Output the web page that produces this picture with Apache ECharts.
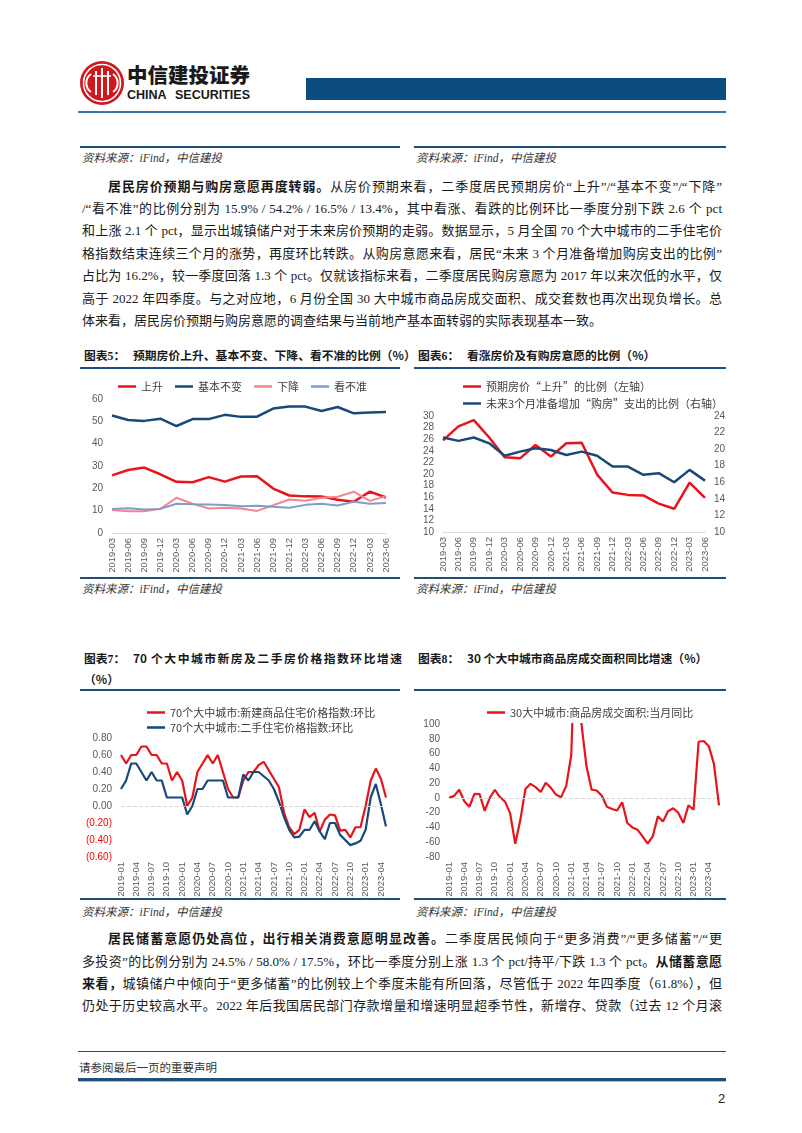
<!DOCTYPE html>
<html><head><meta charset="utf-8">
<script src="https://cdn.jsdelivr.net/npm/echarts@6/dist/echarts.min.js"></script>
<style>
html,body{margin:0;padding:0;background:#fff}
body{width:802px;height:1133px;position:relative;overflow:hidden;font-family:"Liberation Serif","Noto Sans CJK SC",serif;color:#1a1a1a}
.a{position:absolute}
.hl{position:absolute;background:#1F4E79}
.src{position:absolute;font-size:11.5px;font-style:italic;color:#333;line-height:14px;white-space:nowrap}
.tl{position:absolute;left:82px;width:640px;font-size:13px;line-height:22px;height:22px;text-align:justify;text-align-last:justify;white-space:normal}
.tl.first{left:108px;width:614px}
.tl.last{text-align:left;text-align-last:left}
.tl b{font-family:"Noto Sans CJK SC";font-weight:700}
.tt{position:absolute;font-family:"Noto Sans CJK SC";font-weight:700;font-size:11.8px;line-height:16px;white-space:nowrap}
.tt .n{font-family:"Liberation Serif","Noto Sans CJK SC";display:inline-block;width:49px;text-align:left;text-align-last:left}
.ch{position:absolute}
</style></head><body>

<!-- header -->
<svg class="a" style="left:79px;top:60px" width="46" height="46" viewBox="0 0 46 46">
  <circle cx="23" cy="23" r="22" fill="#D2161E"/>
  <circle cx="23" cy="23" r="18.5" fill="none" stroke="#fff" stroke-width="1.6"/>
  <path d="M12 14 A11 11 0 0 0 12 32" fill="none" stroke="#fff" stroke-width="2"/>
  <path d="M34 14 A11 11 0 0 1 34 32" fill="none" stroke="#fff" stroke-width="2"/>
  <line x1="17" y1="11" x2="17" y2="35" stroke="#fff" stroke-width="2"/>
  <line x1="23" y1="8" x2="23" y2="38" stroke="#fff" stroke-width="2"/>
  <line x1="29" y1="11" x2="29" y2="35" stroke="#fff" stroke-width="2"/>
  <line x1="14" y1="16" x2="32" y2="16" stroke="#fff" stroke-width="1.6"/>
</svg>
<div class="a" style="left:127px;top:60px;font-family:'Noto Sans CJK SC';font-weight:900;font-size:20.5px;line-height:28px;color:#1a1a1a;letter-spacing:0px">中信建投证券</div>
<div class="a" style="left:127px;top:88px;width:123px;font-family:'Liberation Sans Narrow','Liberation Sans';font-weight:700;font-size:12.5px;line-height:15px;color:#1a1a1a;text-align:justify;text-align-last:justify">CHINA SECURITIES</div>
<div class="a" style="left:306px;top:78px;width:420px;height:22px;background:#0B4D7E"></div>
<div class="a" style="left:78px;top:111px;width:648px;height:2px;background:#3B78A8"></div>

<!-- top sources -->
<div class="hl" style="left:80px;top:146px;width:320px;height:2px"></div>
<div class="hl" style="left:414px;top:146px;width:312px;height:2px"></div>
<div class="src" style="left:82px;top:151px">资料来源：iFind，中信建投</div>
<div class="src" style="left:416px;top:151px">资料来源：iFind，中信建投</div>

<!-- paragraph 1 -->
<div class="tl first" style="top:175px"><b>居民房价预期与购房意愿再度转弱。</b>从房价预期来看，二季度居民预期房价“上升”/“基本不变”/“下降”</div>
<div class="tl" style="top:197.5px">/“看不准”的比例分别为 15.9% / 54.2% / 16.5% / 13.4%，其中看涨、看跌的比例环比一季度分别下跌 2.6 个 pct</div>
<div class="tl" style="top:220px">和上涨 2.1 个 pct，显示出城镇储户对于未来房价预期的走弱。数据显示，5 月全国 70 个大中城市的二手住宅价</div>
<div class="tl" style="top:242.5px">格指数结束连续三个月的涨势，再度环比转跌。从购房意愿来看，居民“未来 3 个月准备增加购房支出的比例”</div>
<div class="tl" style="top:265px">占比为 16.2%，较一季度回落 1.3 个 pct。仅就该指标来看，二季度居民购房意愿为 2017 年以来次低的水平，仅</div>
<div class="tl" style="top:287.5px">高于 2022 年四季度。与之对应地，6 月份全国 30 大中城市商品房成交面积、成交套数也再次出现负增长。总</div>
<div class="tl last" style="top:310px">体来看，居民房价预期与购房意愿的调查结果与当前地产基本面转弱的实际表现基本一致。</div>

<!-- chart titles row 1 -->
<div class="tt" style="left:84px;top:347px"><span class="n">图表5：</span>预期房价上升、基本不变、下降、看不准的比例（%）</div>
<div class="tt" style="left:418px;top:347px"><span class="n">图表6：</span>看涨房价及有购房意愿的比例（%）</div>
<div class="hl" style="left:80px;top:367px;width:320px;height:2px"></div>
<div class="hl" style="left:414px;top:367px;width:312px;height:2px"></div>
<div id="c5" class="ch" style="left:80px;top:372px;width:325px;height:200px"></div>
<div id="c6" class="ch" style="left:410px;top:372px;width:320px;height:200px"></div>
<div class="hl" style="left:80px;top:577px;width:320px;height:2px"></div>
<div class="hl" style="left:414px;top:577px;width:312px;height:2px"></div>
<div class="src" style="left:82px;top:582px">资料来源：iFind，中信建投</div>
<div class="src" style="left:416px;top:582px">资料来源：iFind，中信建投</div>

<!-- chart titles row 2 -->
<div class="tt" style="left:84px;top:650px;width:318px;text-align:justify;text-align-last:justify"><span class="n">图表7：</span>70 个大中城市新房及二手房价格指数环比增速</div>
<div class="tt" style="left:84px;top:671px">（%）</div>
<div class="tt" style="left:418px;top:650px"><span class="n">图表8：</span>30 个大中城市商品房成交面积同比增速（%）</div>
<div class="hl" style="left:80px;top:689px;width:320px;height:2px"></div>
<div class="hl" style="left:414px;top:689px;width:312px;height:2px"></div>
<div id="c7" class="ch" style="left:80px;top:697px;width:325px;height:200px"></div>
<div id="c8" class="ch" style="left:410px;top:697px;width:320px;height:200px"></div>
<div class="hl" style="left:80px;top:898px;width:320px;height:2px"></div>
<div class="hl" style="left:414px;top:898px;width:312px;height:2px"></div>
<div class="src" style="left:82px;top:905px">资料来源：iFind，中信建投</div>
<div class="src" style="left:416px;top:905px">资料来源：iFind，中信建投</div>

<!-- paragraph 2 -->
<div class="tl first" style="top:927px"><b>居民储蓄意愿仍处高位，出行相关消费意愿明显改善。</b>二季度居民倾向于“更多消费”/“更多储蓄”/“更</div>
<div class="tl" style="top:949.5px">多投资”的比例分别为 24.5% / 58.0% / 17.5%，环比一季度分别上涨 1.3 个 pct/持平/下跌 1.3 个 pct。<b>从储蓄意愿</b></div>
<div class="tl" style="top:972px"><b>来看，</b>城镇储户中倾向于“更多储蓄”的比例较上个季度未能有所回落，尽管低于 2022 年四季度（61.8%），但</div>
<div class="tl" style="top:994.5px">仍处于历史较高水平。2022 年后我国居民部门存款增量和增速明显超季节性，新增存、贷款（过去 12 个月滚</div>

<!-- footer -->
<div class="a" style="left:78px;top:1051px;width:648px;height:1px;background:#1F4E79"></div>
<div class="a" style="left:79px;top:1059px;font-family:'Noto Sans CJK SC';font-size:11.5px;line-height:16px;color:#333">请参阅最后一页的重要声明</div>
<div class="a" style="left:78px;top:1078px;width:648px;height:3px;background:#1F4E79"></div>
<div class="a" style="left:78px;top:1081px;width:648px;height:1px;background:#9DC3E6"></div>
<div class="a" style="left:718px;top:1091px;font-family:'Liberation Sans';font-size:13px;line-height:16px;color:#222">2</div>

<script>
// ---------- data ----------
const quarters = ['2019-03','2019-06','2019-09','2019-12','2020-03','2020-06','2020-09','2020-12','2021-03','2021-06','2021-09','2021-12','2022-03','2022-06','2022-09','2022-12','2023-03','2023-06'];
const expectRise   = [25.8, 28.2, 29.3, 26.3, 22.9, 22.7, 25.0, 23.0, 25.3, 25.4, 19.9, 16.8, 16.4, 16.3, 14.9, 14.0, 18.5, 15.9];
const expectFlat   = [52.6, 50.6, 50.2, 51.2, 47.9, 51.0, 51.0, 52.9, 52.0, 52.1, 55.7, 56.6, 56.6, 54.6, 56.4, 53.6, 53.9, 54.2];
const expectFall   = [10.3, 9.7, 9.7, 10.8, 15.8, 13.1, 11.0, 11.3, 11.0, 9.9, 12.4, 15.0, 14.4, 15.8, 16.2, 18.5, 14.4, 16.5];
const expectUnsure = [10.8, 11.1, 10.5, 10.8, 13.1, 12.9, 12.8, 12.5, 12.0, 12.2, 11.7, 11.3, 12.6, 13.1, 12.3, 14.0, 13.1, 13.4];
const buyIntent    = [21.4, 21.0, 21.4, 20.7, 19.2, 19.7, 20.1, 19.9, 19.3, 19.7, 19.2, 17.9, 17.9, 16.9, 17.1, 16.0, 17.5, 16.2];

// 70 cities MoM, 2019-01 .. 2023-05
const newHomeMoM = [
  0.6,0.5,0.6,0.6,0.7,0.7,0.6,0.6,0.5,0.5,0.3,0.4,
  0.3,0.0,0.1,0.4,0.5,0.6,0.5,0.6,0.4,0.2,0.1,0.1,
  0.3,0.4,0.4,0.48,0.52,0.42,0.32,0.22,-0.08,-0.25,-0.33,-0.28,
  -0.04,-0.13,-0.08,-0.30,-0.16,-0.10,-0.11,-0.29,-0.28,-0.37,-0.25,-0.25,
  0.0,0.30,0.44,0.32,0.10];
const usedHomeMoM = [
  0.2,0.3,0.5,0.5,0.4,0.3,0.4,0.3,0.3,0.1,0.1,0.1,
  0.1,-0.1,0.0,0.2,0.2,0.3,0.3,0.3,0.3,0.1,0.1,0.1,
  0.37,0.3,0.4,0.4,0.35,0.3,0.2,0.05,-0.13,-0.28,-0.37,-0.36,
  -0.28,-0.28,-0.18,-0.30,-0.39,-0.20,-0.20,-0.34,-0.40,-0.46,-0.44,-0.41,
  -0.28,0.10,0.26,0.02,-0.24];

// 30 cities transaction area YoY, 2019-01 .. 2023-06
const area30YoY = [
  0, 2.7, 11, -4.5, -12, 5.5, 5, -17.5, 0, 11, 1, -5,
  -21, -62, -30, 12, 19, 14.5, 8, 20.5, 13.6, 4.5, 1, 16,
  58, 270, 100, 42, 11, 10, 3, -12, -15, -17, -6, -34,
  -40, -43, -52, -62, -52, -25, -32, -18, -14, -20, -34, -10,
  -16, 76, 77, 70, 46, -10];

function monthLabels(n){const a=[];for(let i=0;i<n;i++){const y=2019+Math.floor(i/12),m=i%12+1;a.push(y+'-'+(m<10?'0':'')+m);}return a;}
const months7 = monthLabels(newHomeMoM.length);
const months8 = monthLabels(area30YoY.length);

// ---------- styles ----------
const RED='#E8141B', NAVY='#17497A', PINK='#F3878D', STEEL='#7C9EC8', GREY='#595959';
const FONT='"Liberation Sans","Noto Sans CJK SC",sans-serif';
const CJK='"Noto Sans CJK SC","Liberation Sans",sans-serif';

function xCat(data, interval){
  return {type:'category',data:data,boundaryGap:false,
    axisLine:{show:true,lineStyle:{color:'#D9D9D9',width:1}},
    axisTick:{show:false},
    axisLabel:{rotate:90,fontSize:9.5,color:GREY,margin:5,interval:interval,fontFamily:FONT}};
}
function yVal(min,max,step,extra){
  return Object.assign({type:'value',min:min,max:max,interval:step,
    axisLine:{show:false},axisTick:{show:false},splitLine:{show:false},
    axisLabel:{fontSize:10,color:GREY,margin:9,fontFamily:FONT}},extra||{});
}
function ln(name,data,color,w,extra){
  return Object.assign({name:name,type:'line',data:data,symbol:'none',smooth:false,
    lineStyle:{color:color,width:w},itemStyle:{color:color},clip:true},extra||{});
}
const legendBase = {icon:'rect',itemWidth:18,itemHeight:2.5,textStyle:{fontSize:11,color:'#404040',fontFamily:CJK}};

// Chart 5
const c5 = echarts.init(document.getElementById('c5'));
c5.setOption({animation:false,
  legend:Object.assign({},legendBase,{top:4,left:'center',itemGap:12}),
  grid:{left:32,right:19,top:27,bottom:39,outerBoundsMode:'none'},
  xAxis:xCat(quarters,0),
  yAxis:yVal(0,60,10),
  series:[ln('上升',expectRise,RED,2.5),ln('基本不变',expectFlat,NAVY,2.5),ln('下降',expectFall,PINK,2),ln('看不准',expectUnsure,STEEL,2)]
});

// Chart 6
const c6 = echarts.init(document.getElementById('c6'));
c6.setOption({animation:false,
  legend:Object.assign({},legendBase,{top:4,left:48,orient:'vertical',itemGap:6}),
  grid:{left:33,right:25,top:44,bottom:40,outerBoundsMode:'none'},
  xAxis:xCat(quarters,0),
  yAxis:[yVal(10,30,2),yVal(10,24,2,{position:'right'})],
  series:[ln('预期房价“上升”的比例（左轴）',expectRise,RED,2.5,{yAxisIndex:0}),
          ln('未来3个月准备增加“购房”支出的比例（右轴）',buyIntent,NAVY,2.5,{yAxisIndex:1})]
});

// Chart 7
const c7 = echarts.init(document.getElementById('c7'));
const x7 = xCat(months7,2); x7.axisLine={show:false,onZero:false};
c7.setOption({animation:false,
  legend:Object.assign({},legendBase,{top:5,left:62,orient:'vertical',itemGap:4}),
  grid:{left:41,right:19,top:41,bottom:40,outerBoundsMode:'none'},
  xAxis:x7,
  yAxis:yVal(-0.6,0.8,0.2,{axisLabel:{fontSize:10,margin:9,fontFamily:FONT,
    formatter:v=>v<-1e-9?'('+Math.abs(v).toFixed(2)+')':Math.abs(v).toFixed(2),
    color:v=>parseFloat(v)<-1e-9?'#FF0000':GREY}}),
  series:[ln('70个大中城市:新建商品住宅价格指数:环比',newHomeMoM,RED,2.2,{markLine:{silent:true,symbol:'none',label:{show:false},lineStyle:{color:'#D9D9D9',type:'dashed',width:1},data:[{yAxis:0}]}}),
          ln('70个大中城市:二手住宅价格指数:环比',usedHomeMoM,NAVY,2.2)]
});

// Chart 8
const c8 = echarts.init(document.getElementById('c8'));
const x8 = xCat(months8,2); x8.axisLine={show:false,onZero:false};
c8.setOption({animation:false,
  legend:Object.assign({},legendBase,{top:5,left:72}),
  grid:{left:39,right:11,top:27,bottom:40,outerBoundsMode:'none'},
  xAxis:x8,
  yAxis:yVal(-80,100,20),
  series:[ln('30大中城市:商品房成交面积:当月同比',area30YoY,RED,2.2,{markLine:{silent:true,symbol:'none',label:{show:false},lineStyle:{color:'#D9D9D9',type:'dashed',width:1},data:[{yAxis:0}]}})]
});
</script>
</body></html>
